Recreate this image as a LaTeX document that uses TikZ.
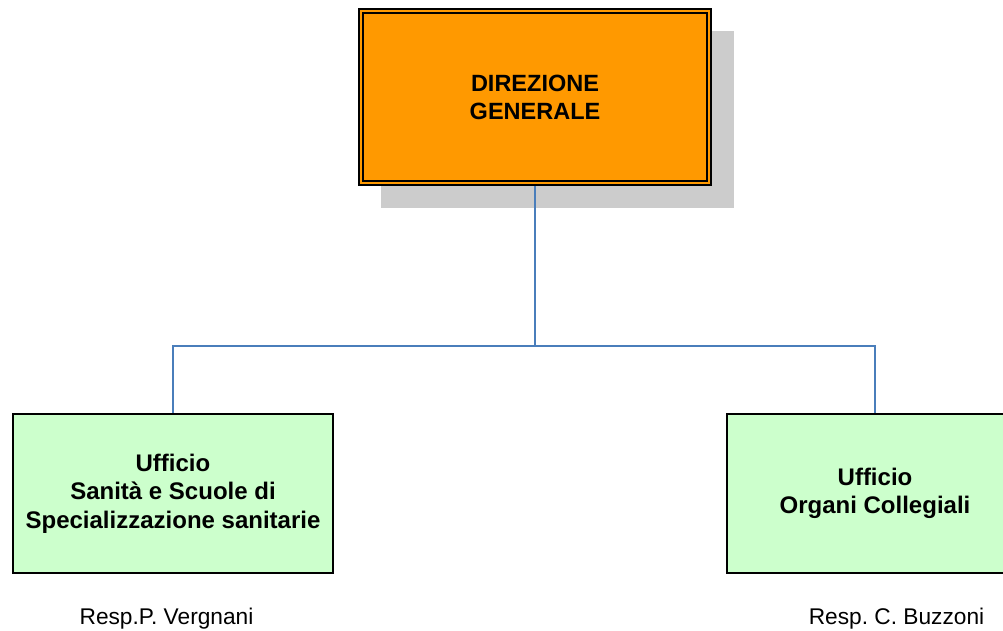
\documentclass[tikz,border=0pt]{standalone}
\usepackage{fontspec}
\setmainfont{Liberation Sans}
\frenchspacing
\definecolor{dgorange}{HTML}{FF9900}
\definecolor{ufgreen}{HTML}{CCFFCC}
\definecolor{connblue}{HTML}{4A7EBB}
\definecolor{shadowgray}{HTML}{CCCCCC}
\tikzset{
  topbox/.style={draw=black, line width=2pt, fill=dgorange, minimum width=352pt, minimum height=176pt, align=center, font=\fontsize{23.5}{28}\selectfont\bfseries, inner sep=0pt},
  ufbox/.style={draw=black, line width=1.5pt, fill=ufgreen, minimum height=159pt, align=center, font=\fontsize{24}{28.5}\selectfont\bfseries, inner sep=0pt},
  resp/.style={font=\fontsize{22.7}{26}\selectfont\frenchspacing, inner sep=0pt},
  conn/.style={draw=connblue, line width=1.3pt}
}
\begin{document}
\begin{tikzpicture}[x=1pt, y=-1pt]
\useasboundingbox (0,0) rectangle (1003,631);
\clip (0,0) rectangle (1003,631);
\fill[shadowgray] (381,31) rectangle (734,208);
\node[topbox] (dg) at (535,97) {DIREZIONE\\GENERALE};
\draw[line width=1.2pt] ([shift={(5,5)}]dg.north west) rectangle ([shift={(-5,-5)}]dg.south east);
\node[ufbox, minimum width=320pt] (sanita) at (173,493.5) {Ufficio\\Sanità e Scuole di\\Specializzazione sanitarie};
\node[ufbox, minimum width=296pt] (organi) at (875,493.5) {Ufficio\\Organi Collegiali};
\coordinate (bus) at (535,346);
\draw[conn] (dg.south) -- (bus);
\draw[conn] (bus) -| (sanita.north);
\draw[conn] (bus) -| (organi.north);
\node[resp] (r1) at (166.5,619) {Resp.P. Vergnani};
\node[resp] (r2) at (896.5,619) {Resp. C. Buzzoni};
\end{tikzpicture}
\end{document}
